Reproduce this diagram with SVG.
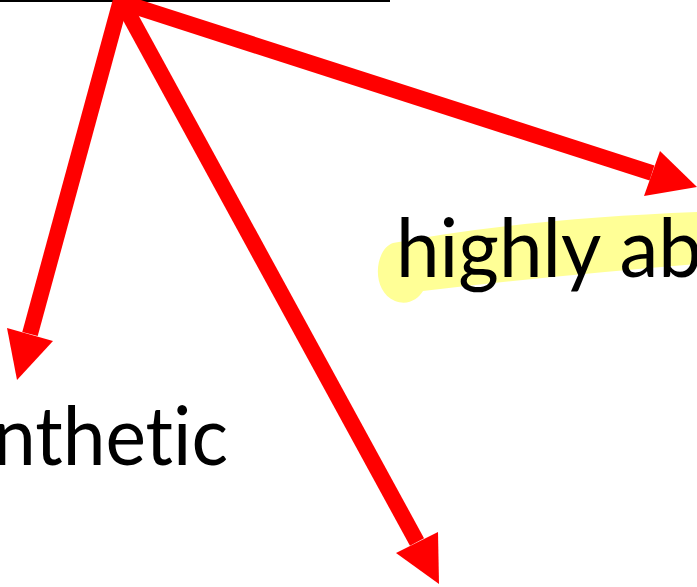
<svg xmlns="http://www.w3.org/2000/svg" width="697" height="587" viewBox="0 0 697 587">
<style>
.shaft{stroke:#FF0000;stroke-width:16;fill:none;stroke-linecap:butt}
.head{fill:#FF0000}
.lbl{font-family:"Lato","Open Sans","Liberation Sans",sans-serif;font-size:82px;fill:#000;font-variant-ligatures:none;font-feature-settings:"liga" 0,"clig" 0}
.hl{fill:#FFFF96}
</style>
<rect id="topline" x="0" y="0" width="390" height="2" fill="#000"/>
<g id="node-highly">
<path class="hl" d="M 697,212 Q 520,219 393,243 C 375,249 370,290 395,301 C 408,306 418,299 423,291 Q 550,276 697,264 Z"/>
<text class="lbl" x="396" y="277" textLength="306" lengthAdjust="spacingAndGlyphs">highly ab</text>
</g>
<g id="node-synthetic">
<text class="lbl" x="-7" y="465" textLength="235" lengthAdjust="spacingAndGlyphs">nthetic</text>
</g>
<g id="connectors">
<line class="shaft" x1="121" y1="0" x2="30" y2="334"/>
<polygon class="head" points="7,328 53,341 17,380"/>
<line class="shaft" x1="121" y1="0" x2="417" y2="542"/>
<polygon class="head" points="396,553 438,532 439,584"/>
<line class="shaft" x1="121" y1="2" x2="652" y2="173"/>
<polygon class="head" points="660,151 644,196 697,187"/>
</g>
</svg>
